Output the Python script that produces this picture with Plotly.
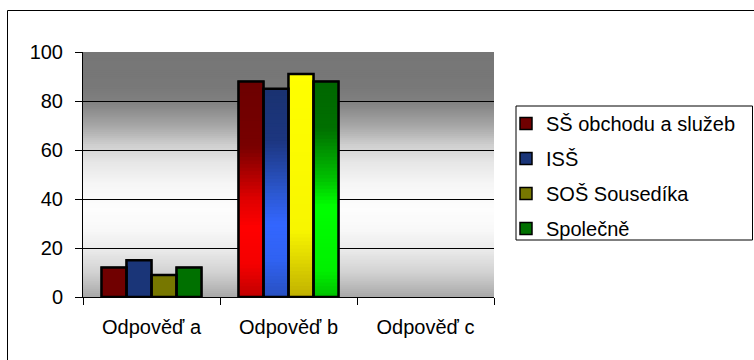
import plotly.graph_objects as go

# --- data -------------------------------------------------------------
categories = ["Odpověď a", "Odpověď b", "Odpověď c"]
series_names = ["SŠ obchodu a služeb", "ISŠ", "SOŠ Sousedíka", "Společně"]
ss_obchodu = [12, 88, 0]
iss = [15, 85, 0]
sos_sousedika = [9, 91, 0]
spolecne = [12, 88, 0]
series_values = [ss_obchodu, iss, sos_sousedika, spolecne]
y_ticks = [0, 20, 40, 60, 80, 100]

# --- styling ----------------------------------------------------------
FONT = "Arial, 'Liberation Sans', sans-serif"
FS = 20
W, H = 754, 360
M_L, M_R, M_T, M_B = 83, 260, 52, 63
PLOT_W = W - M_L - M_R
PLOT_H = H - M_T - M_B

# solid colour used for short bars and legend swatches
dark_colors = ["#700000", "#1a3578", "#777700", "#007000"]
# vertical gradient stops for each series (0 = top of bar, 1 = bottom)
gradients = [
    [(0, "#6c0000"), (0.30, "#780000"), (0.55, "#e00000"), (0.68, "#ff0000"), (0.85, "#f40000"), (1, "#c00000")],
    [(0, "#1a3270"), (0.25, "#1c3680"), (0.50, "#2c58d0"), (0.65, "#3366ff"), (0.82, "#3062f2"), (1, "#2850c0")],
    [(0, "#ffff00"), (0.70, "#f8f600"), (1, "#c0b000")],
    [(0, "#006600"), (0.22, "#007000"), (0.45, "#00c000"), (0.58, "#00ff00"), (0.88, "#00f000"), (1, "#00c000")],
]
# plot-area background gradient (0 = bottom, 1 = top)
bg_stops = [(0.0, "#a8a8a8"), (0.1, "#d2d2d2"), (0.2, "#ececec"), (0.28, "#f9f9f9"),
            (0.36, "#fdfdfd"), (0.46, "#f6f6f6"), (0.55, "#e6e6e6"), (0.62, "#cfcfcf"),
            (0.70, "#a6a6a6"), (0.80, "#7f7f7f"), (0.86, "#787878"), (1.0, "#767676")]

BAR_W = 0.1825
GROUP_START = -0.365
N_SEG = 60


def rgb(h):
    h = h.lstrip("#")
    return [int(h[i:i + 2], 16) for i in (0, 2, 4)]


def mix(a, b, f):
    return [a[j] + (b[j] - a[j]) * f for j in range(3)]


def sample(stops, t):
    for (p0, c0), (p1, c1) in zip(stops[:-1], stops[1:]):
        if p0 <= t <= p1:
            f = 0 if p1 == p0 else (t - p0) / (p1 - p0)
            return mix(rgb(c0), rgb(c1), f)
    return rgb(stops[-1][1])


def css(c):
    return "rgb(%d,%d,%d)" % tuple(round(v) for v in c)


def bar_color(i, t, h):
    # short bars stay in the dark tone, tall ones carry the full gradient
    s = max(0.0, min(1.0, (h - 20) / 50))
    return css(mix(rgb(dark_colors[i]), sample(gradients[i], t), s))


def outline_widths(vals, w):
    # empty bars get no outline
    return [w if v else 0 for v in vals]


fig = go.Figure()

# base bars (also provide the legend entries)
for i, (name, vals) in enumerate(zip(series_names, series_values)):
    fig.add_trace(go.Bar(
        x=categories, y=vals, name=name, legendgroup=name,
        width=BAR_W, offset=GROUP_START + i * BAR_W,
        marker=dict(color=dark_colors[i], line=dict(color="black", width=outline_widths(vals, 1.5))),
        hoverinfo="skip",
    ))

# gradient fill, drawn as thin stacked slices over each bar
for i, vals in enumerate(series_values):
    for k in range(N_SEG):
        bases = [v * k / N_SEG for v in vals]
        heights = [min(v / N_SEG * 1.6, v - v * k / N_SEG) for v in vals]
        colors = [bar_color(i, 1 - (k + 0.5) / N_SEG, v) for v in vals]
        fig.add_trace(go.Bar(
            x=categories, y=heights, base=bases,
            width=BAR_W, offset=GROUP_START + i * BAR_W,
            marker=dict(color=colors, line=dict(width=0)),
            showlegend=False, hoverinfo="skip",
        ))

# black outlines on top
for i, vals in enumerate(series_values):
    fig.add_trace(go.Bar(
        x=categories, y=vals,
        width=BAR_W, offset=GROUP_START + i * BAR_W,
        marker=dict(color="rgba(0,0,0,0)", line=dict(color="black", width=outline_widths(vals, 2.5))),
        showlegend=False, hoverinfo="skip",
    ))

shapes = []
N_BG = 120
for k in range(N_BG):
    y0 = k / N_BG
    y1 = (k + 1) / N_BG + 0.004
    shapes.append(dict(
        type="rect", xref="paper", yref="paper", x0=0, x1=1, y0=y0, y1=min(y1, 1),
        fillcolor=css(sample(bg_stops, (k + 0.5) / N_BG)), line=dict(width=0), layer="below",
    ))


def px_x(px):
    return (px - M_L) / PLOT_W


def px_y(py):
    return (H - M_B - py) / PLOT_H


# chart frame
shapes.append(dict(type="rect", xref="paper", yref="paper",
                   x0=px_x(7.5), x1=px_x(820), y0=px_y(420), y1=px_y(10.5),
                   line=dict(color="black", width=1), fillcolor="rgba(0,0,0,0)"))
# legend frame
shapes.append(dict(type="rect", xref="paper", yref="paper",
                   x0=px_x(516), x1=px_x(752.5), y0=px_y(240), y1=px_y(106),
                   line=dict(color="black", width=1), fillcolor="rgba(0,0,0,0)"))

fig.update_layout(
    width=W, height=H,
    margin=dict(l=M_L, r=M_R, t=M_T, b=M_B, pad=0),
    paper_bgcolor="white", plot_bgcolor="#777777",
    barmode="overlay",
    font=dict(family=FONT, size=FS, color="black"),
    showlegend=True,
    legend=dict(
        x=px_x(506), xanchor="left", y=px_y(104), yanchor="top",
        bgcolor="rgba(0,0,0,0)", borderwidth=0,
        font=dict(family=FONT, size=FS, color="black"),
        traceorder="grouped", tracegroupgap=6,
        itemclick=False, itemdoubleclick=False,
    ),
    shapes=shapes,
    xaxis=dict(
        type="category", range=[-0.5, 2.5], tickson="boundaries",
        ticks="outside", ticklen=7, tickcolor="black", tickwidth=1,
        showline=True, linecolor="black", linewidth=1,
        showgrid=False, zeroline=False, ticklabelstandoff=12,
        tickfont=dict(family=FONT, size=FS, color="black"),
    ),
    yaxis=dict(
        range=[0, 100], tickvals=y_ticks,
        ticks="outside", ticklen=7, tickcolor="black", tickwidth=1,
        showline=True, linecolor="black", linewidth=1,
        showgrid=False, zeroline=False, ticklabelstandoff=8,
        tickfont=dict(family=FONT, size=FS, color="black"),
        minor=dict(tickvals=y_ticks[1:-1], ticks="", showgrid=True,
                   gridcolor="black", gridwidth=1),
    ),
)

fig.write_html("out.html")
